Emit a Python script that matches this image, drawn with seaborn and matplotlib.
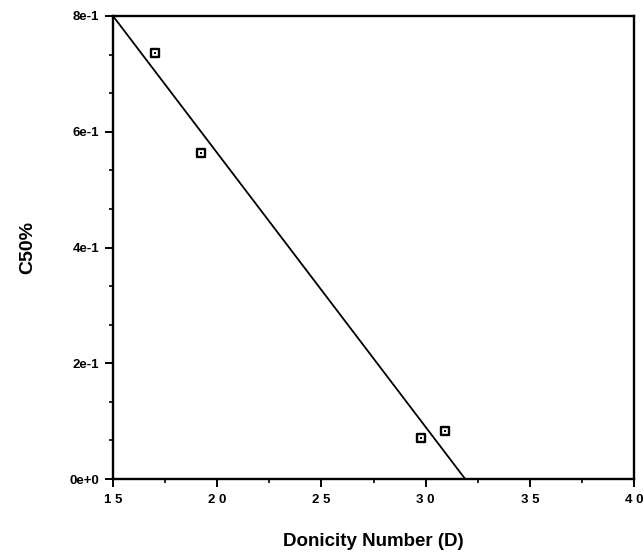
import matplotlib
matplotlib.use("Agg")
import matplotlib.pyplot as plt
import seaborn as sns
import pandas as pd
from matplotlib.ticker import MultipleLocator, FixedLocator

# Data
donicity = [17.0, 19.2, 29.8, 30.95]
c50 = [0.736, 0.563, 0.071, 0.083]
fit_x = [15.0, 31.9]
fit_y = [0.8, 0.0]
xticks = [15, 20, 25, 30, 35, 40]
xtick_labels = ["1 5", "2 0", "2 5", "3 0", "3 5", "4 0"]
yticks = [0.0, 0.2, 0.4, 0.6, 0.8]
ytick_labels = ["0e+0", "2e-1", "4e-1", "6e-1", "8e-1"]

sns.set_theme(style="white")
plt.rcParams["font.family"] = ["Liberation Sans", "DejaVu Sans"]

fig = plt.figure(figsize=(6.44, 5.59), dpi=100)
ax = fig.add_axes([113/644, 1-479/559, (634-113)/644, (479-16)/559])

pts = pd.DataFrame({"x": donicity, "y": c50})
line = pd.DataFrame({"x": fit_x, "y": fit_y})

sns.lineplot(data=line, x="x", y="y", ax=ax, color="black", linewidth=1.3)
sns.scatterplot(data=pts, x="x", y="y", ax=ax, marker="s", s=40,
                facecolor="white", edgecolor="black", linewidth=1.7, zorder=5)
sns.scatterplot(data=pts, x="x", y="y", ax=ax, marker="s", s=3,
                color="black", linewidth=0, zorder=6)

ax.set_xlim(15, 40)
ax.set_ylim(0, 0.8)
ax.xaxis.set_major_locator(FixedLocator(xticks))
ax.set_xticklabels(xtick_labels)
ax.xaxis.set_minor_locator(MultipleLocator(2.5))
ax.yaxis.set_major_locator(FixedLocator(yticks))
ax.set_yticklabels(ytick_labels)
ax.yaxis.set_minor_locator(MultipleLocator(0.2/3))

for s in ax.spines.values():
    s.set_visible(True)
    s.set_color("black")
    s.set_linewidth(1.7)

ax.tick_params(axis="both", which="major", direction="out", length=6, width=1.4,
               color="black", labelsize=9.5, pad=4, bottom=True, left=True,
               top=False, right=False, labelcolor="black")
ax.tick_params(axis="both", which="minor", direction="out", length=3, width=1.2,
               color="black", bottom=True, left=True, top=False, right=False)
ax.tick_params(axis="x", which="major", pad=5)
for lab in ax.get_xticklabels() + ax.get_yticklabels():
    lab.set_fontweight("semibold")

ax.set_xlabel("Donicity Number (D)", fontsize=13.5, fontweight="bold",
              labelpad=19, color="black")
ax.set_ylabel("C50%", fontsize=14, fontweight="bold", labelpad=24, color="black")
ax.grid(False)

fig.savefig("out.png", dpi=100)
